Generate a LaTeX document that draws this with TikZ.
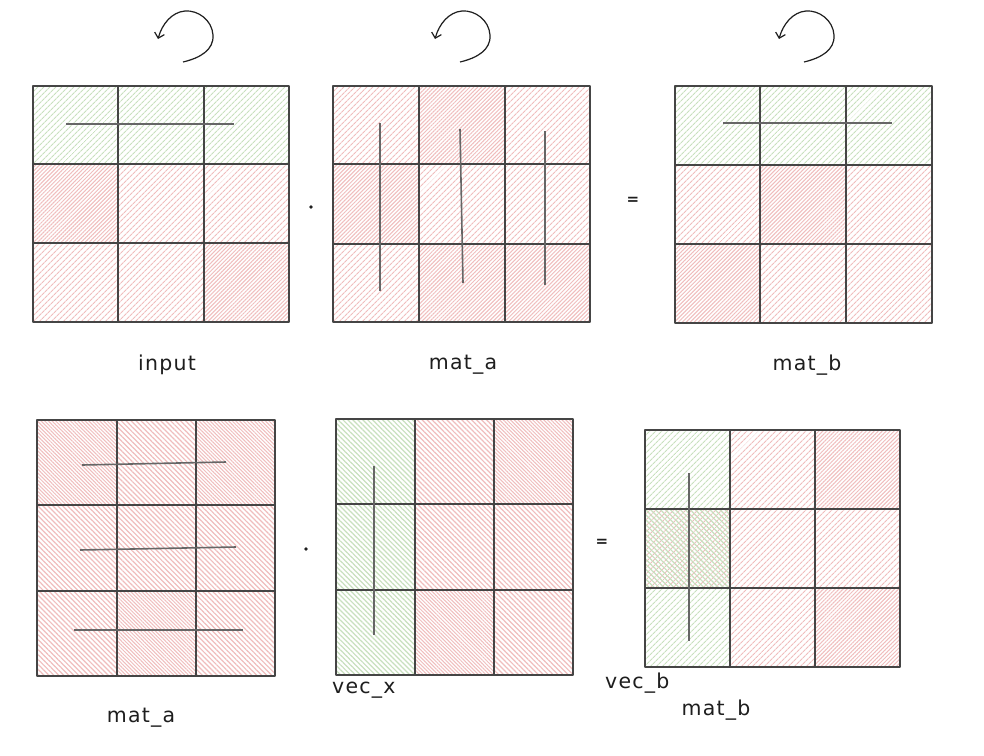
\documentclass[tikz,border=0pt]{standalone}
\usepackage{fontspec}
\newfontfamily\hand[LetterSpace=6]{DejaVu Sans}
\usetikzlibrary{patterns.meta,arrows.meta}
\definecolor{rh}{HTML}{F0BDBD}
\definecolor{gh}{HTML}{C8E0BE}
\definecolor{edgec}{HTML}{454545}
\definecolor{inkc}{HTML}{1E1E1E}
\newcommand\hcell[5]{\path[#5] (#1,#2) rectangle (#3,#4);}
\newcommand\hgrid[8]{%
  \draw[gridline] (#2,#5) -- (#2,#8) (#3,#5) -- (#3,#8) (#1,#6) -- (#4,#6) (#1,#7) -- (#4,#7);
  \draw[gridline] (#1,#5) rectangle (#4,#8);}
\begin{document}
\begin{tikzpicture}[x=1pt,y=-1pt,
  rs/.style={pattern={Lines[angle=45,distance=4pt,line width=1.2pt]},pattern color=rh},
  rd/.style={pattern={Lines[angle=45,distance=2.8pt,line width=1pt]},pattern color=rh},
  rb/.style={pattern={Lines[angle=-45,distance=3.5pt,line width=1.2pt]},pattern color=rh},
  rbd/.style={pattern={Lines[angle=-45,distance=2.6pt,line width=1pt]},pattern color=rh},
  gs/.style={pattern={Lines[angle=45,distance=4pt,line width=1.2pt]},pattern color=gh},
  gb/.style={pattern={Lines[angle=-45,distance=3.5pt,line width=1.2pt]},pattern color=gh},
  gridline/.style={draw=edgec,line width=1.8pt,line join=round},
  inner/.style={draw=black!60,line width=1.6pt},
  rot/.style={draw=inkc,line width=1.2pt,-{Straight Barb[length=5pt,width=10pt]}},
  lbl/.style={text=inkc,font=\hand\fontsize{20.5}{24}\selectfont,inner sep=0pt},
  op/.style={text=inkc,font=\hand\bfseries\fontsize{15}{18}\selectfont,inner sep=0pt}]
\useasboundingbox (0,0) rectangle (984,755);
\fill[white] (0,0) rectangle (984,755);

% ---------- matrix 1 : input
\hcell{33}{86}{118}{164}{gs}\hcell{118}{86}{204}{164}{gs}\hcell{204}{86}{289}{164}{gs}
\hcell{33}{164}{118}{243}{rd}\hcell{118}{164}{204}{243}{rs}\hcell{204}{164}{289}{243}{rs}
\hcell{33}{243}{118}{322}{rs}\hcell{118}{243}{204}{322}{rs}\hcell{204}{243}{289}{322}{rd}
\hgrid{33}{118}{204}{289}{86}{164}{243}{322}
\draw[inner] (66,124) -- (234,124);

% ---------- matrix 2 : mat_a
\hcell{333}{86}{419}{164}{rs}\hcell{419}{86}{505}{164}{rd}\hcell{505}{86}{590}{164}{rs}
\hcell{333}{164}{419}{244}{rd}\hcell{419}{164}{505}{244}{rs}\hcell{505}{164}{590}{244}{rs}
\hcell{333}{244}{419}{322}{rs}\hcell{419}{244}{505}{322}{rd}\hcell{505}{244}{590}{322}{rd}
\hgrid{333}{419}{505}{590}{86}{164}{244}{322}
\draw[inner] (380,123) -- (380,291);
\draw[inner] (460,129) -- (463,283);
\draw[inner] (545,131) -- (545,285);

% ---------- matrix 3 : mat_b
\hcell{675}{86}{760}{165}{gs}\hcell{760}{86}{846}{165}{gs}\hcell{846}{86}{932}{165}{gs}
\hcell{675}{165}{760}{244}{rs}\hcell{760}{165}{846}{244}{rd}\hcell{846}{165}{932}{244}{rs}
\hcell{675}{244}{760}{323}{rd}\hcell{760}{244}{846}{323}{rs}\hcell{846}{244}{932}{323}{rs}
\hgrid{675}{760}{846}{932}{86}{165}{244}{323}
\draw[inner] (723,123) -- (892,123);

% ---------- matrix 4 : mat_a
\hcell{37}{420}{117}{505}{rbd}\hcell{117}{420}{196}{505}{rb}\hcell{196}{420}{275}{505}{rbd}
\hcell{37}{505}{117}{591}{rb}\hcell{117}{505}{196}{591}{rb}\hcell{196}{505}{275}{591}{rb}
\hcell{37}{591}{117}{676}{rb}\hcell{117}{591}{196}{676}{rbd}\hcell{196}{591}{275}{676}{rb}
\hgrid{37}{117}{196}{275}{420}{505}{591}{676}
\draw[inner] (82,465) -- (226,462);
\draw[inner] (80,550) -- (236,547);
\draw[inner] (74,630) -- (243,630);

% ---------- matrix 5 : vec_x
\hcell{336}{419}{415}{504}{gb}\hcell{415}{419}{494}{504}{rb}\hcell{494}{419}{573}{504}{rbd}
\hcell{336}{504}{415}{590}{gb}\hcell{415}{504}{494}{590}{rb}\hcell{494}{504}{573}{590}{rb}
\hcell{336}{590}{415}{675}{gb}\hcell{415}{590}{494}{675}{rbd}\hcell{494}{590}{573}{675}{rb}
\hgrid{336}{415}{494}{573}{419}{504}{590}{675}
\draw[inner] (374,466) -- (374,635);

% ---------- matrix 6 : mat_b
\hcell{645}{430}{730}{509}{gs}\hcell{730}{430}{815}{509}{rs}\hcell{815}{430}{900}{509}{rd}
\hcell{645}{509}{730}{588}{rs}\hcell{645}{509}{730}{588}{gb}\hcell{730}{509}{815}{588}{rs}\hcell{815}{509}{900}{588}{rs}
\hcell{645}{588}{730}{667}{gs}\hcell{730}{588}{815}{667}{rs}\hcell{815}{588}{900}{667}{rd}
\hgrid{645}{730}{815}{900}{430}{509}{588}{667}
\draw[inner] (689,473) -- (689,641);

% ---------- rotation arrows
\foreach \dx in {0,277,621}{
  \begin{scope}[shift={(\dx,0)}]
    \draw[rot] (183,62) .. controls (200,58) and (214,50) .. (213,35)
      .. controls (212,20) and (198,10) .. (185,11)
      .. controls (172,12) and (162,24) .. (158,39);
  \end{scope}}

% ---------- operators
\fill[inkc] (311,207) circle (1.8);
\fill[inkc] (306,549) circle (1.8);
\node[op] (eq1) at (633,201) {=};
\node[op] (eq2) at (602,543) {=};

% ---------- labels
\node[lbl] (l1) at (167,365) {input};
\node[lbl] (l2) at (463,365) {mat\_a};
\node[lbl] (l3) at (807,365) {mat\_b};
\node[lbl] (l4) at (141,718) {mat\_a};
\node[lbl,anchor=west] (l5) at (332,690) {vec\_x};
\node[lbl,anchor=west] (l6) at (605,683) {vec\_b};
\node[lbl] (l7) at (716,710) {mat\_b};
\end{tikzpicture}
\end{document}
